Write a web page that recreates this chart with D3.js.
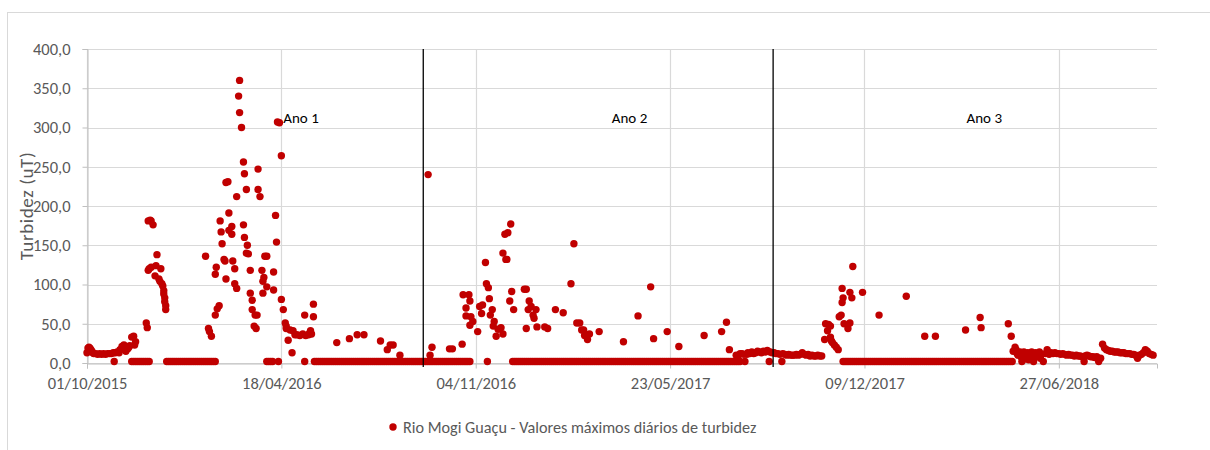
<!DOCTYPE html>
<html>
<head>
<meta charset="utf-8">
<script src="https://cdnjs.cloudflare.com/ajax/libs/d3/7.8.5/d3.min.js"></script>
<style>
  body { margin: 0; background: #fff; }
  text { font-family: Carlito, Lato, "Noto Sans", sans-serif; }
</style>
</head>
<body>
<svg id="grafico" width="1210" height="450"></svg>
<script>
// dados: [dias desde 01/10/2015, turbidez maxima (uT)]
var inicio = "2015-10-01";
var diasEixo = 1101;

var ano1 = [
  [0,13],[1,19],[2,20],[3,19],[4,17],[5,15],[6,13],[7,12],[9,12],[11,11],[13,12],[15,11],[17,12],[19,11],[21,12],[23,12],[25,12],[27,13],[28,2],[29,13],[31,14],[33,13],[34,17],[36,21],[38,23],[40,15],[42,18],[43,20],[44,22],[46,33],[48,34],[49,23],[50,27],
  [46,2],[48,2],[50,2],[52,2],[54,2],[56,2],[58,2],[60,2],[62,2],[64,2],
  [61,51],[62,45],[63,181],[65,182],[66,181],[68,176],[63,118],[64,120],[66,122],[70,111],[71,124],[72,138],[74,107],[75,104],[76,120],[77,101],[78,98],[79,92],[79,88],[80,83],[80,78],[81,73],[81,68],
  [82,2],[84,2],[86,2],[88,2],[90,2],[92,2],[94,2],[96,2],[98,2],[100,2],[102,2],[104,2],[106,2],[108,2],[110,2],[112,2],[114,2],[116,2],[118,2],[120,2],[122,2],[124,2],[126,2],[128,2],[130,2],[132,2],
  [122,136],[125,44],[126,40],[128,34],[132,61],[134,69],[136,73],[132,113],[133,122],[137,181],[138,167],[139,152],[141,132],[142,130],[143,107],[143,230],[145,231],[146,191],[146,169],[149,174],[149,164],[150,130],[152,120],[152,101],[154,95],[154,212],
  [156,340],[157,360],[157,319],[159,300],[161,256],[162,241],[164,221],[161,176],[162,160],[165,150],[164,140],[166,139],[168,118],[168,89],[170,80],[170,68],[172,47],[174,44],[173,61],[175,61],
  [176,247],[176,221],[178,212],[180,118],[181,104],[182,109],[181,89],[183,136],[185,136],[185,97],[192,116],[192,93],[194,188],[195,154],[196,307],[198,306],[200,264],
  [200,81],[202,68],[204,51],[205,47],[205,44],[207,29],[209,42],[211,13],[212,41],[214,36],[216,36],[219,35],[222,37],[224,61],[225,35],[228,36],[229,38],[230,41],[231,37],[233,75],[233,59],
  [185,2],[187,2],[189,2],[191,2],[197,2],[224,2],
  [234,2],[236,2],[238,2],[240,2],[242,2],[244,2],[246,2],[248,2],[250,2],[252,2],[254,2],[256,2],[258,2],[260,2],[262,2],[264,2],[266,2],[268,2],[270,2],[272,2],[274,2],[276,2],[278,2],[280,2],[282,2],[284,2],[286,2],[288,2],[290,2],[292,2],[294,2],[296,2],[298,2],[300,2],[302,2],[304,2],[306,2],[308,2],[310,2],[312,2],[314,2],[316,2],[318,2],[320,2],[322,2],[324,2],[326,2],[328,2],[330,2],[332,2],[334,2],[336,2],[338,2],[340,2],[342,2],[344,2],[346,2],
  [257,26],[270,31],[278,36],[285,36],[302,28],[309,17],[312,23],[315,23],[322,10]
];

var ano2 = [
  [348,2],[350,2],[352,2],[354,2],[356,2],[358,2],[360,2],[362,2],[364,2],[366,2],[368,2],[370,2],[372,2],[374,2],[376,2],[378,2],[380,2],[382,2],[384,2],[386,2],[388,2],[390,2],[392,2],[394,2],[412,2],
  [351,240],[353,10],[355,20],[373,18],[376,18],[386,24],[387,87],[393,87],[394,79],[390,70],[390,60],[394,48],[395,59],[397,53],
  [402,40],[404,72],[406,63],[407,74],[410,128],[411,101],[413,96],[414,82],[415,61],[417,68],[418,47],[419,53],[421,34],[423,43],[426,45],[428,37],
  [428,140],[431,132],[430,164],[433,166],[436,177],[432,132],[435,79],[437,91],[439,68],
  [450,94],[452,94],[452,44],[455,79],[454,68],[457,72],[459,61],[460,57],[462,68],[463,46],[471,46],[474,44],[482,68],[490,64],[498,101],[501,152],
  [504,51],[507,51],[509,42],[511,42],[512,35],[515,30],[517,37],[527,40],[552,27],[567,60],[580,97],[583,31],[597,40],[609,21],[635,35],[653,40],[658,52],[661,17],
  [438,2],[440,2],[442,2],[444,2],[446,2],[448,2],[450,2],[452,2],[454,2],[456,2],[458,2],[460,2],[462,2],[464,2],[466,2],[468,2],[470,2],[472,2],[474,2],[476,2],[478,2],[480,2],[482,2],[484,2],[486,2],[488,2],[490,2],[492,2],[494,2],[496,2],[498,2],
  [500,2],[502,2],[504,2],[506,2],[508,2],[510,2],[512,2],[514,2],[516,2],[518,2],[520,2],[522,2],[524,2],[526,2],[528,2],[530,2],[532,2],[534,2],[536,2],[538,2],[540,2],[542,2],[544,2],[546,2],[548,2],[550,2],[552,2],[554,2],[556,2],[558,2],
  [560,2],[562,2],[564,2],[566,2],[568,2],[570,2],[572,2],[574,2],[576,2],[578,2],[580,2],[582,2],[584,2],[586,2],[588,2],[590,2],[592,2],[594,2],[596,2],[598,2],[600,2],[602,2],[604,2],[606,2],[608,2],[610,2],[612,2],[614,2],[616,2],[618,2],
  [620,2],[622,2],[624,2],[626,2],[628,2],[630,2],[632,2],[634,2],[636,2],[638,2],[640,2],[642,2],[644,2],[646,2],[648,2],[650,2],[652,2],[654,2],[656,2],[658,2],[660,2],[662,2],[664,2],[666,2],[668,2],[670,2],[672,2],
  [668,10],[670,9],[672,12],[674,12],[676,11],[677,2],[679,11],[680,13],[682,12],[684,14],[686,12],[688,13],[690,15],[692,14],[694,13],[696,15],[698,14],[700,16],[702,2],[703,14],[705,13]
];

var ano3 = [
  [707,13],[709,12],[711,12],[713,11],[715,2],[716,12],[718,11],[720,10],[722,11],[724,10],[726,10],[728,10],[730,11],[732,10],[734,11],[736,13],[738,11],[740,10],[742,11],[744,9],[746,10],[748,9],[750,9],[752,10],[754,9],[756,9],
  [759,30],[760,50],[762,41],[763,49],[765,47],[765,33],[766,28],[767,26],[769,23],[771,20],[773,17],[774,59],[776,61],[777,77],[777,95],[778,83],[779,50],[783,44],[785,51],[785,90],[787,83],[788,123],[798,90],[815,61],[843,85],[862,34],[873,34],[904,42],[919,58],[920,45],[948,50],[951,34],[955,20],[953,15],
  [778,2],[780,2],[782,2],[784,2],[786,2],[788,2],[790,2],[792,2],[794,2],[796,2],[798,2],[800,2],[802,2],[804,2],[806,2],[808,2],[810,2],[812,2],[814,2],[816,2],[818,2],[820,2],[822,2],[824,2],[826,2],[828,2],[830,2],[832,2],[834,2],[836,2],[838,2],
  [840,2],[842,2],[844,2],[846,2],[848,2],[850,2],[852,2],[854,2],[856,2],[858,2],[860,2],[862,2],[864,2],[866,2],[868,2],[870,2],[872,2],[874,2],[876,2],[878,2],[880,2],[882,2],[884,2],[886,2],[888,2],[890,2],[892,2],[894,2],[896,2],[898,2],
  [900,2],[902,2],[904,2],[906,2],[908,2],[910,2],[912,2],[914,2],[916,2],[918,2],[920,2],[922,2],[924,2],[926,2],[928,2],[930,2],[932,2],[934,2],[936,2],[938,2],[940,2],[942,2],[944,2],[946,2],[948,2],[950,2],[952,2],
  [956,17],[957,12],[958,10],[960,14],[961,8],[962,2],[964,14],[965,5],[966,11],[968,13],[969,4],[970,12],[972,14],[973,9],[974,2],[976,13],[977,8],[978,12],[980,14],[981,6],[982,11],[984,2],[986,12],[988,17],[989,13],[990,11],
  [992,13],[994,12],[996,13],[998,12],[1000,12],[1002,11],[1004,12],[1006,11],[1008,10],[1010,11],[1012,10],[1014,10],[1016,9],[1018,10],[1020,9],[1022,9],[1024,8],[1026,2],[1027,9],[1029,10],[1031,9],[1033,8],[1035,8],[1037,7],[1039,8],[1041,2],[1043,6],
  [1045,24],[1047,19],[1049,17],[1051,16],[1053,15],[1055,15],[1057,14],[1059,14],[1061,14],[1063,13],[1065,13],[1067,13],[1069,12],[1071,12],[1073,12],[1075,11],[1077,11],[1079,10],[1081,6],[1083,10],[1085,11],[1087,13],[1089,17],[1091,15],[1093,12],[1095,11],[1097,10]
];

var valoresY = [0, 50, 100, 150, 200, 250, 300, 350, 400];
var rotulosX = ["01/10/2015", "18/04/2016", "04/11/2016", "23/05/2017", "09/12/2017", "27/06/2018"];
var divisoesAno = ["2016-09-11", "2017-09-06"];
var nomesAno = ["Ano 1", "Ano 2", "Ano 3"];
var diasNomeAno = [202, 540, 905];
var legenda = "Rio Mogi Guaçu - Valores máximos diários de turbidez";
var tituloY = "Turbidez (uT)";

var svg = d3.select("#grafico");
var parseISO = d3.utcParse("%Y-%m-%d");
var parseBR = d3.utcParse("%d/%m/%Y");
var t0 = parseISO(inicio);
var dia = function(d) { return d3.utcDay.offset(t0, d); };

var esq = 87, dir = 1157, topo = 49, base = 363;

var x = d3.scaleUtc().domain([t0, dia(diasEixo)]).range([esq, dir]);
var y = d3.scaleLinear().domain([0, 400]).range([base, topo]);

var br = d3.formatLocale({decimal: ",", thousands: ".", grouping: [3], currency: ["R$", ""]});
var fmtY = br.format(".1f");
var fmtX = d3.utcFormat("%d/%m/%Y");
var ticksX = rotulosX.map(parseBR);

// borda da area do grafico
svg.append("rect")
  .attr("x", 7.5).attr("y", 12.5).attr("width", 1230).attr("height", 460)
  .attr("fill", "none").attr("stroke", "#d9d9d9");

// grade
svg.append("g").selectAll("line").data(valoresY).enter().append("line")
  .attr("x1", esq).attr("x2", dir)
  .attr("y1", function(d) { return Math.round(y(d)) + 0.5; })
  .attr("y2", function(d) { return Math.round(y(d)) + 0.5; })
  .attr("stroke", "#d9d9d9").attr("stroke-width", 1.2);

svg.append("g").selectAll("line").data(ticksX).enter().append("line")
  .attr("x1", function(d) { return Math.round(x(d)) + 0.5; })
  .attr("x2", function(d) { return Math.round(x(d)) + 0.5; })
  .attr("y1", topo).attr("y2", base)
  .attr("stroke", "#d9d9d9").attr("stroke-width", 1.2);

// eixos
var eixoY = svg.append("g").attr("transform", "translate(" + (esq + 0.5) + ",0)")
  .call(d3.axisLeft(y).tickValues(valoresY).tickFormat(fmtY).tickSize(5).tickPadding(12));
var eixoX = svg.append("g").attr("transform", "translate(0," + (base + 0.5) + ")")
  .call(d3.axisBottom(x).tickValues(ticksX).tickFormat(fmtX).tickSize(5).tickPadding(8));

[eixoY, eixoX].forEach(function(g) {
  g.select(".domain").attr("stroke", "#bfbfbf");
  g.selectAll(".tick line").attr("stroke", "#bfbfbf");
  g.selectAll(".tick text").attr("fill", "#595959").style("font-size", "16.5px");
});
eixoX.selectAll(".tick text").attr("dy", null).attr("y", 25);

// pontos
var pontos = ano1.concat(ano2, ano3);
svg.append("g").selectAll("circle").data(pontos).enter().append("circle")
  .attr("cx", function(d) { return x(dia(d[0])); })
  .attr("cy", function(d) { return y(d[1]); })
  .attr("r", 3.7)
  .attr("fill", "#c00000");

// linhas de separacao dos anos
svg.append("g").selectAll("line").data(divisoesAno).enter().append("line")
  .attr("x1", function(d) { return x(parseISO(d)); })
  .attr("x2", function(d) { return x(parseISO(d)); })
  .attr("y1", topo).attr("y2", base + 4)
  .attr("stroke", "#000").attr("stroke-width", 1.3);

svg.append("g").selectAll("text").data(nomesAno).enter().append("text")
  .attr("x", function(d, i) { return x(dia(diasNomeAno[i])); })
  .attr("y", y(306))
  .attr("fill", "#000")
  .style("font-size", "15px")
  .text(function(d) { return d; });

// titulo do eixo y
svg.append("text")
  .attr("transform", "translate(33,206) rotate(-90)")
  .attr("text-anchor", "middle")
  .attr("fill", "#595959")
  .style("font-size", "19px")
  .style("letter-spacing", "0.6px")
  .text(tituloY);

// legenda
svg.append("circle").attr("cx", 393).attr("cy", 427).attr("r", 3.7).attr("fill", "#c00000");
svg.append("text").attr("x", 403).attr("y", 432.5)
  .attr("fill", "#595959").style("font-size", "16.2px")
  .text(legenda);
</script>
</body>
</html>
